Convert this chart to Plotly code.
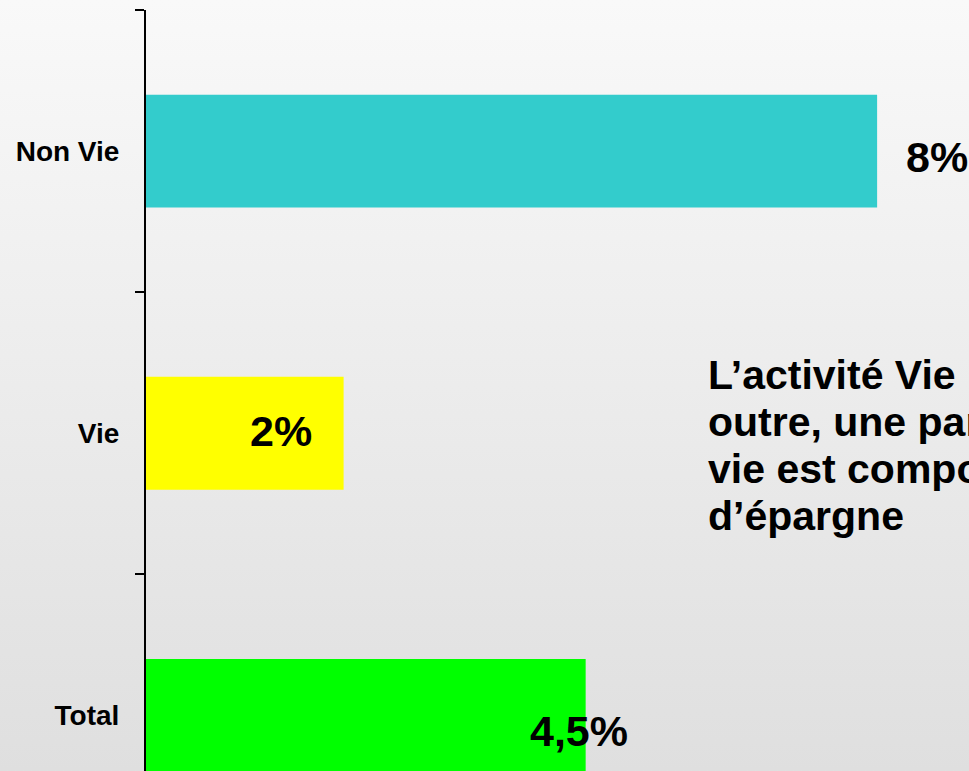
import base64

import plotly.graph_objects as go

# categories top to bottom, bar lengths (in %),
# and the value labels as printed on the chart
CATEGORIES = ["Non Vie", "Vie", "Total"]
BAR_VALUES = [7.4, 2.0, 4.45]
VALUE_LABELS = ["8%", "2%", "4,5%"]
BAR_COLORS = ["#33cccc", "#ffff00", "#00ff00"]

NOTE_LINES = ["L’activité Vie", "outre, une part", "vie est composée", "d’épargne"]

W, H = 969, 771
M_L, M_T = 146, 10
PLOT_W, PLOT_H = W - M_L, H - M_T
FONT = "Liberation Sans, Arial, sans-serif"


def py_to_paper(py):
    return 1 - (py - M_T) / PLOT_H


# soft vertical gradient behind everything
svg = (
    '<svg xmlns="http://www.w3.org/2000/svg" viewBox="0 0 10 100" '
    'preserveAspectRatio="none" width="10" height="100">'
    '<defs><linearGradient id="g" x1="0" y1="0" x2="0" y2="1">'
    '<stop offset="0" stop-color="#f9f9f9"/><stop offset="1" stop-color="#dfdfdf"/>'
    '</linearGradient></defs><rect width="10" height="100" fill="url(#g)"/></svg>'
)
bg_src = "data:image/svg+xml;base64," + base64.b64encode(svg.encode()).decode()

fig = go.Figure(
    go.Bar(
        x=BAR_VALUES,
        y=CATEGORIES,
        orientation="h",
        marker=dict(color=BAR_COLORS, line=dict(width=0)),
        hoverinfo="skip",
    )
)

# value labels, placed like the original slide
label_offsets = [
    dict(xanchor="left", xshift=27, yshift=-6),
    dict(xanchor="right", xshift=-30, yshift=2),
    dict(xanchor="center", xshift=-7, yshift=-16),
]
for cat, val, text, off in zip(CATEGORIES, BAR_VALUES, VALUE_LABELS, label_offsets):
    fig.add_annotation(
        x=val, y=cat, xref="x", yref="y", text=f"<b>{text}</b>", showarrow=False,
        font=dict(family=FONT, size=43, color="#000000"), yanchor="middle", **off,
    )

# commentary text (runs off the right edge in the original)
for i, line in enumerate(NOTE_LINES):
    fig.add_annotation(
        x=(706 - M_L) / PLOT_W, y=py_to_paper(375 + 47 * i), xref="paper", yref="paper",
        text=f"<b>{line}</b>", showarrow=False, xanchor="left", yanchor="middle",
        font=dict(family=FONT, size=41, color="#000000"),
    )

fig.add_layout_image(
    source=bg_src, xref="paper", yref="paper",
    x=-M_L / PLOT_W, y=1 + M_T / PLOT_H, sizex=W / PLOT_W, sizey=H / PLOT_H,
    xanchor="left", yanchor="top", sizing="stretch", layer="below",
)

fig.update_layout(
    width=W,
    height=H,
    margin=dict(l=M_L, r=0, t=M_T, b=0),
    paper_bgcolor="#eeeeee",
    plot_bgcolor="rgba(0,0,0,0)",
    bargap=0.6,
    showlegend=False,
    font=dict(family=FONT, color="#000000"),
)
fig.update_xaxes(range=[0, 8.33], visible=False, fixedrange=True)
fig.update_yaxes(
    type="category",
    categoryorder="array",
    categoryarray=CATEGORIES,
    range=[2.197, -0.5],
    tickson="boundaries",
    ticks="outside",
    ticklen=9,
    tickwidth=2,
    tickcolor="#000000",
    showline=True,
    linecolor="#000000",
    linewidth=2,
    showgrid=False,
    zeroline=False,
    ticklabelstandoff=19,
    tickfont=dict(family=FONT, size=28, color="#000000", weight="bold"),
    fixedrange=True,
)

# page has a default body margin; drop it so the figure fills the window
fig.write_html(
    "out.html",
    config={"displayModeBar": False},
    post_script="document.body.style.margin='0';document.body.style.overflow='hidden';",
)
